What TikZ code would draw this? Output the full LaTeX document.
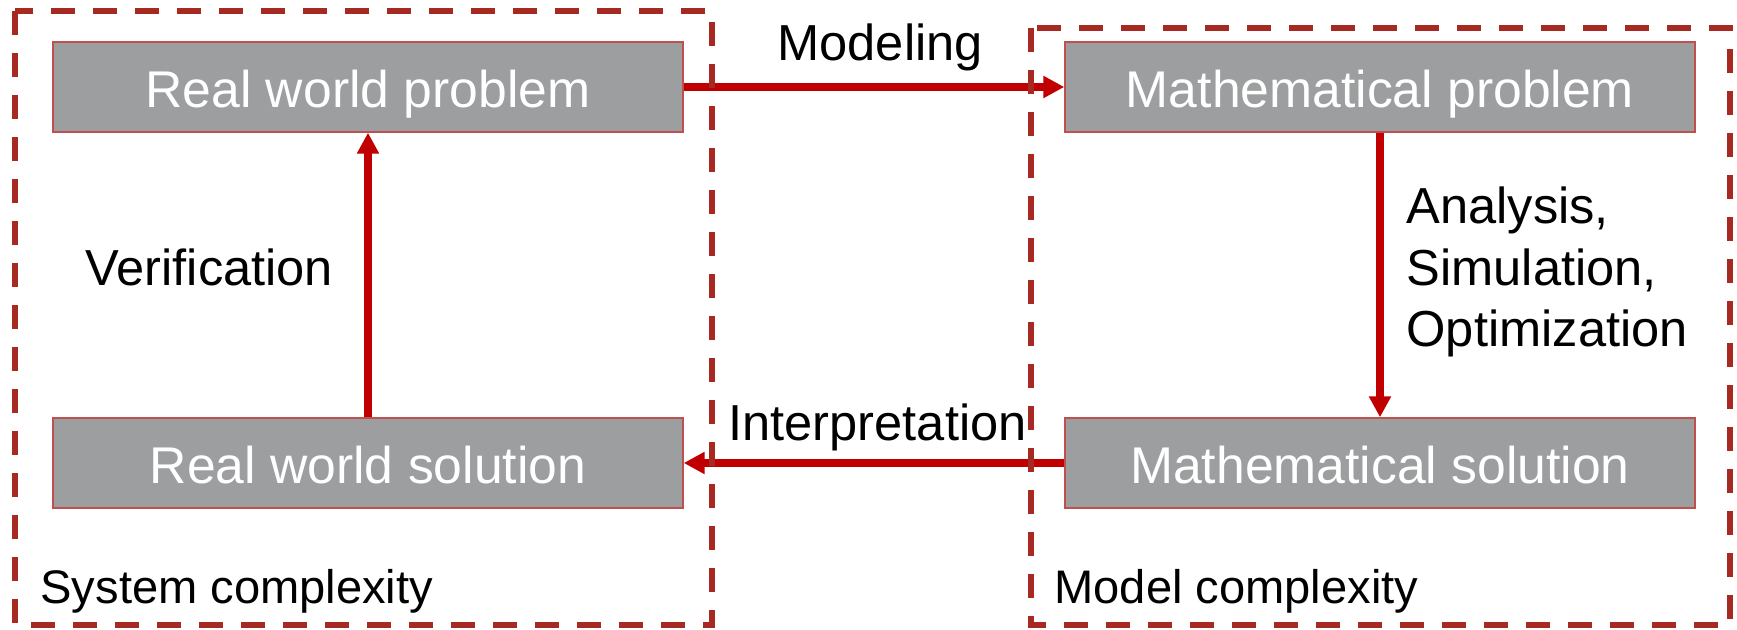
\documentclass[tikz,border=0pt]{standalone}
\usepackage{fontspec}
\setmainfont{Liberation Sans}
\usetikzlibrary{arrows.meta}
\definecolor{boxgray}{RGB}{157,158,160}
\definecolor{edgered}{RGB}{192,80,77}
\definecolor{framered}{RGB}{166,42,34}
\definecolor{arrowred}{RGB}{192,0,0}

\begin{document}
\begin{tikzpicture}[line width = 2pt,
                    stage/.style = {draw = edgered, line width = 0.4pt, fill = boxgray, text = white,
                                    minimum width = 6.3cm, minimum height = 0.9cm, inner sep = 0pt,
                                    text height = 0.42cm, text depth = 0cm, font = \fontsize{14.7}{17}\selectfont},
                    region/.style = {draw = framered, line width = 1.9pt, dash pattern = on 0.24cm off 0.18cm},
                    link/.style = {draw = arrowred, -{Triangle[length = 0.21cm, width = 0.21cm]}},
                    tag/.style = {inner sep = 0pt, anchor = base west, align = left,
                                  font = \fontsize{14.4}{17.64}\selectfont},
                    corner/.style = {inner sep = 0pt, anchor = base west, font = \fontsize{13.4}{16}\selectfont}]
      \useasboundingbox (0, 0) rectangle (17.37, 6.29);
      \node [stage] (rwp) at (3.68, 5.42){Real world problem};
      \node [stage] (mp) at (13.80, 5.42){Mathematical problem};
      \node [stage] (rws) at (3.68, 1.66){Real world solution};
      \node [stage] (ms) at (13.80, 1.66){Mathematical solution};
      \draw [link] (rwp) -- (mp);
      \draw [link] (mp) -- (ms);
      \draw [link] (ms) -- (rws);
      \draw [link] (rws) -- (rwp);
      \node [tag] (model) at (7.74, 5.68){Modeling};
      \node [tag] (verify) at (0.82, 3.43){Verification};
      \node [tag] (interp) at (7.25, 1.88){Interpretation};
      \node [tag] (solve) at (14.03, 2.82){Analysis,\\Simulation,\\Optimization};
      \draw [region] (0.15, 6.18) rectangle (7.12, 0.04);
      \draw [region] (10.31, 6.01) rectangle (17.30, 0.04);
      \node [corner] (syscx) at (0.37, 0.25){System complexity};
      \node [corner] (modcx) at (10.51, 0.25){Model complexity};
    \end{tikzpicture}
\end{document}
